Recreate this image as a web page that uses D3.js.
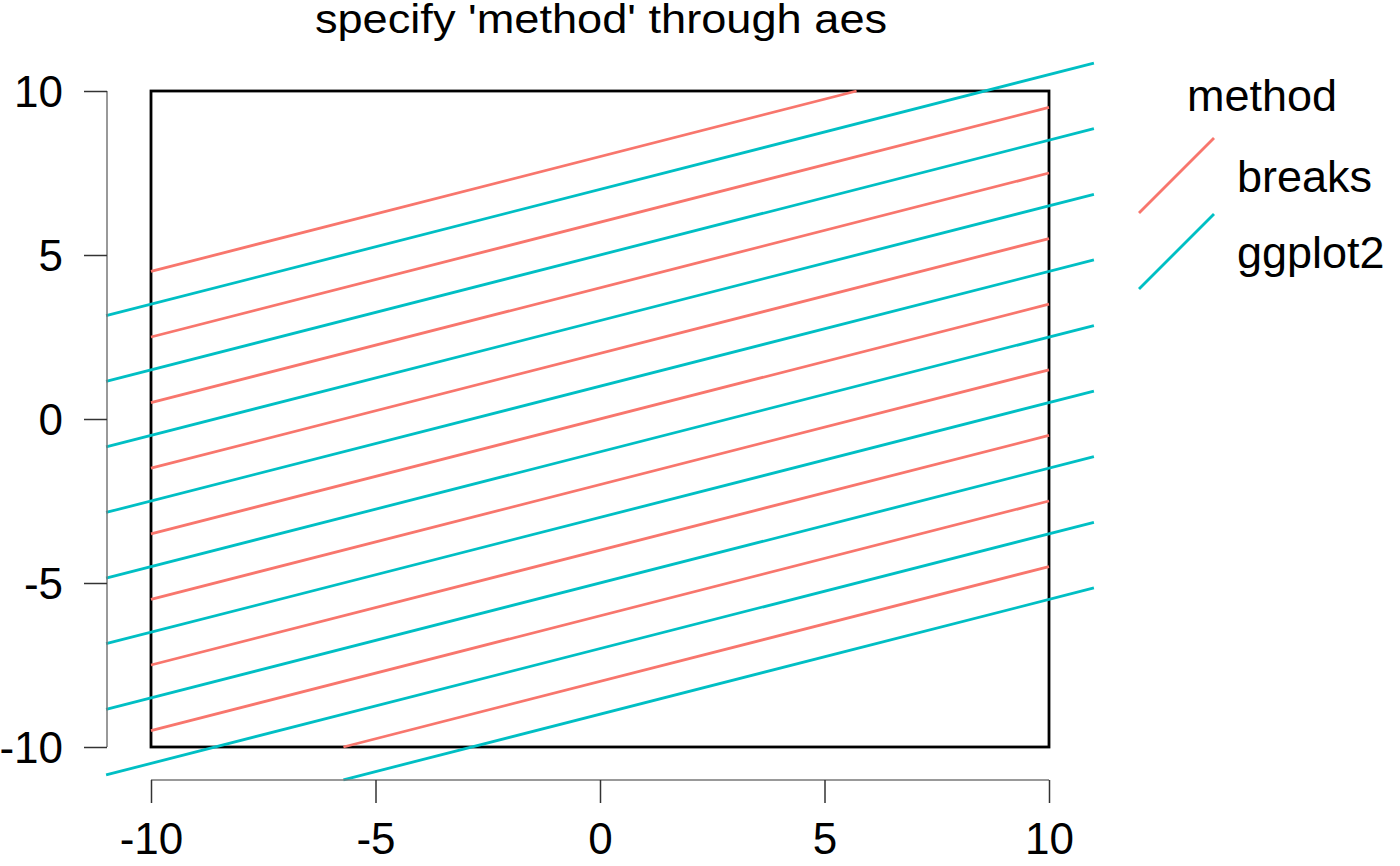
<!DOCTYPE html>
<html><head><meta charset="utf-8">
<script src="https://cdn.jsdelivr.net/npm/d3@7"></script>
<style>body{margin:0;background:#fff}svg{display:block}text{font-family:"Liberation Sans",Arial,sans-serif;fill:#000}</style>
</head><body><svg id="c" width="1400" height="866"></svg>
<script>
const title = "specify 'method' through aes";
const legendTitle = "method";
const methods = ["breaks", "ggplot2"];
const colors = ["#F8766D", "#00BFC4"];
const slope = 0.35;
const breaksIntercepts = [8, 6, 4, 2, 0, -2, -4, -6, -8];
const ggplot2Intercepts = [7, 5, 3, 1, -1, -3, -5, -7, -9];
const breaksExtent = [-10, 10];
const ggplot2Extent = [-11, 11];
const xTicks = [-10, -5, 0, 5, 10];
const yTicks = [-10, -5, 0, 5, 10];
const tickLabels = ["-10", "-5", "0", "5", "10"];

const svg = d3.select("#c");
const x = d3.scaleLinear().domain([-10, 10]).range([151, 1049]);
const y = d3.scaleLinear().domain([-10, 10]).range([747, 91]);
const fmt = d => tickLabels[xTicks.indexOf(d)];

function clipLine(b, ext) {
  const [lo, hi] = ext;
  const x0 = Math.max(lo, (lo - b) / slope), x1 = Math.min(hi, (hi - b) / slope);
  return [[x0, slope * x0 + b], [x1, slope * x1 + b]];
}

// box
svg.append("rect").attr("x", x(-10)).attr("y", y(10)).attr("width", x(10) - x(-10)).attr("height", y(-10) - y(10))
  .attr("fill", "none").attr("stroke", "#000").attr("stroke-width", 2.8);

const line = d3.line().x(d => x(d[0])).y(d => y(d[1]));
const sets = [[breaksIntercepts, breaksExtent], [ggplot2Intercepts, ggplot2Extent]];
sets.forEach(([ints, ext], i) => {
  svg.append("g").selectAll("path").data(ints).join("path")
    .attr("d", b => line(clipLine(b, ext)))
    .attr("fill", "none").attr("stroke", colors[i]).attr("stroke-width", 2.8);
});

// y axis
const ya = svg.append("g").attr("transform", "translate(107,0)")
  .call(d3.axisLeft(y).tickValues(yTicks).tickSize(23).tickPadding(21).tickFormat(fmt));
ya.select(".domain").attr("stroke", "#777").attr("stroke-width", 1.5).attr("d", `M0,${y(10)}V${y(-10)}`);
ya.selectAll(".tick line").attr("stroke", "#333").attr("stroke-width", 1.5);
ya.selectAll(".tick text").attr("font-size", 44).attr("dy", "0.36em").attr("fill", "#000")
  .attr("font-family", "Liberation Sans, Arial, sans-serif");

// x axis
const xa = svg.append("g").attr("transform", "translate(0,780)")
  .call(d3.axisBottom(x).tickValues(xTicks).tickSize(23).tickPadding(20).tickFormat(fmt));
xa.select(".domain").attr("stroke", "#777").attr("stroke-width", 1.5).attr("d", `M${x(-10)},0H${x(10)}`);
xa.selectAll(".tick line").attr("stroke", "#333").attr("stroke-width", 1.5);
xa.selectAll(".tick text").attr("font-size", 44).attr("dy", "0.71em").attr("fill", "#000")
  .attr("font-family", "Liberation Sans, Arial, sans-serif");

// title
svg.append("text").attr("transform", "translate(601,33) scale(1.13,1)")
  .attr("text-anchor", "middle").attr("font-size", 40).text(title);

// legend
svg.append("text").attr("x", 1187).attr("y", 111).attr("font-size", 45).text(legendTitle);
const kx = d3.scaleLinear().domain([0, 1]).range([1139, 1214]);
methods.forEach((m, i) => {
  const top = 138 + i * 76;
  svg.append("line").attr("x1", kx(0)).attr("y1", top + 75).attr("x2", kx(1)).attr("y2", top)
    .attr("stroke", colors[i]).attr("stroke-width", 2.8);
  svg.append("text").attr("x", 1237).attr("y", 192 + i * 76).attr("font-size", 45).text(m);
});
</script></body></html>
